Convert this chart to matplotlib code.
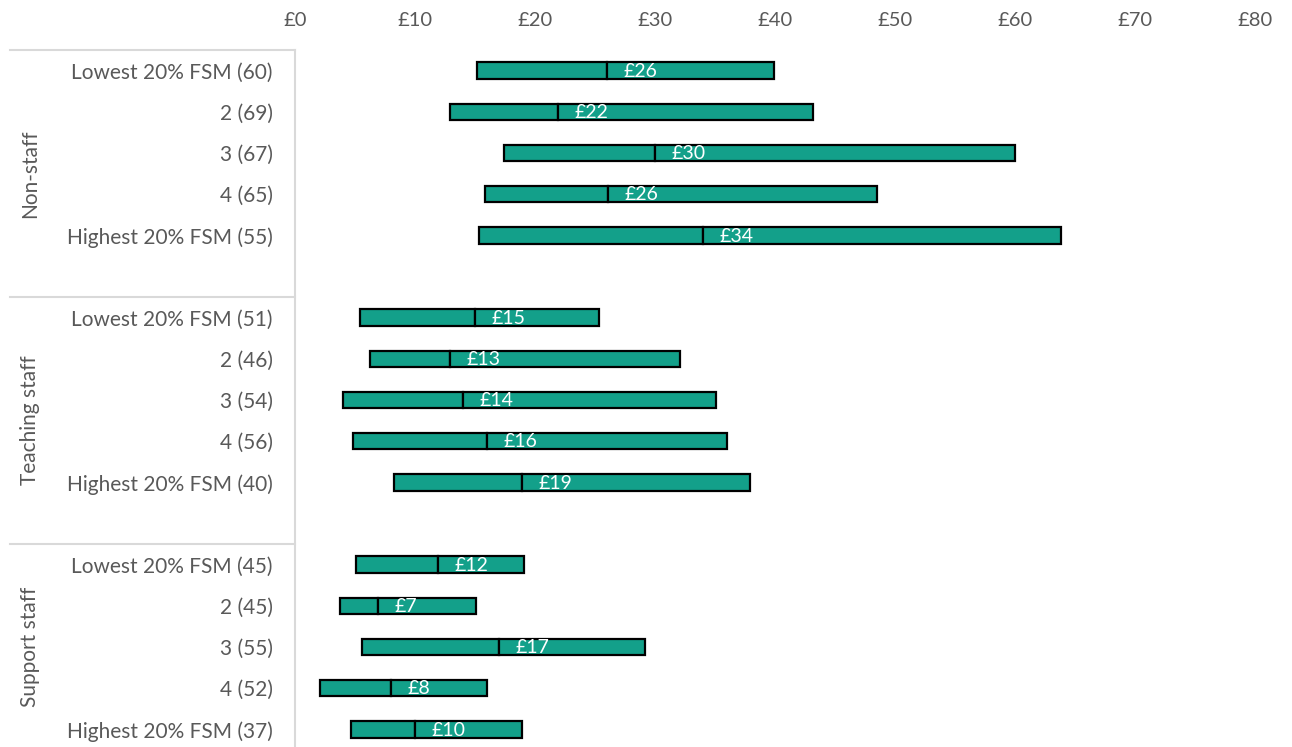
import matplotlib
matplotlib.use("Agg")
import matplotlib.pyplot as plt
import matplotlib.transforms as mtransforms

plt.rcParams['font.family'] = ['Lato', 'DejaVu Sans']

# groups and row labels (n in brackets), top to bottom
groups = ['Non-staff', 'Teaching staff', 'Support staff']
rows = ['Lowest 20% FSM', '2', '3', '4', 'Highest 20% FSM']
counts = [
    [60, 69, 67, 65, 55],
    [51, 46, 54, 56, 40],
    [45, 45, 55, 52, 37],
]
# lower quartile, median, upper quartile (GBP)
lower = [
    [15.2, 12.9, 17.4, 15.8, 15.35],
    [5.4, 6.25, 4.0, 4.85, 8.25],
    [5.1, 3.75, 5.6, 2.1, 4.7],
]
median = [
    [26.0, 21.9, 30.0, 26.1, 34.0],
    [15.0, 12.9, 14.0, 16.0, 18.9],
    [11.9, 6.9, 17.0, 8.0, 10.0],
]
upper = [
    [39.9, 43.2, 60.0, 48.5, 63.8],
    [25.3, 32.1, 35.1, 36.0, 37.9],
    [19.1, 15.05, 29.2, 16.0, 18.9],
]

teal = '#13A08A'
grey_text = '#595959'
grey_line = '#D9D9D9'

fig = plt.figure(figsize=(12.92, 7.47), dpi=100)
ax = fig.add_axes([0.2283, -0.004, 0.7431, 0.937])

ypos, ylabels = [], []
slot = 0
bounds = []
for g in range(len(groups)):
    start = slot
    for i in range(len(rows)):
        y = slot
        lo, md, up = lower[g][i], median[g][i], upper[g][i]
        ax.barh(y, md - lo, left=lo, height=0.4, color=teal,
                edgecolor='black', linewidth=1.6)
        ax.barh(y, up - md, left=md, height=0.4, color=teal,
                edgecolor='black', linewidth=1.6)
        ax.annotate('£%.0f' % md, xy=(md, y), xytext=(12, -0.5),
                    textcoords='offset points', ha='left', va='center',
                    color='white', fontsize=14)
        ypos.append(y)
        ylabels.append('%s (%d)' % (rows[i], counts[g][i]))
        slot += 1
    slot += 1
    bounds.append(start - 0.5)

ax.set_xlim(0, 80)
ax.set_ylim(16.5, -0.5)
ax.set_xticks(range(0, 81, 10))
ax.set_xticklabels(['£%d' % v for v in range(0, 81, 10)])
ax.xaxis.tick_top()
ax.set_yticks(ypos)
ax.set_yticklabels(ylabels)
ax.tick_params(axis='x', length=0, pad=15, labelsize=14.5, labelcolor=grey_text)
ax.tick_params(axis='y', length=0, pad=16, labelsize=15, labelcolor=grey_text)

for s in ['top', 'right', 'bottom']:
    ax.spines[s].set_visible(False)
ax.spines['left'].set_color(grey_line)
ax.spines['left'].set_linewidth(1.5)

# multi-level category separators and group labels
trans = mtransforms.blended_transform_factory(ax.transAxes, ax.transData)
ends = bounds[1:] + [16.5]
for b, e, name in zip(bounds, ends, groups):
    ax.plot([-0.297, 0], [b, b], transform=trans, color=grey_line,
            linewidth=1.5, clip_on=False)
    ax.text(-0.276, (b + e) / 2, name, transform=trans, rotation=90,
            ha='center', va='center', color=grey_text, fontsize=15)

fig.savefig('out.png', dpi=100)
